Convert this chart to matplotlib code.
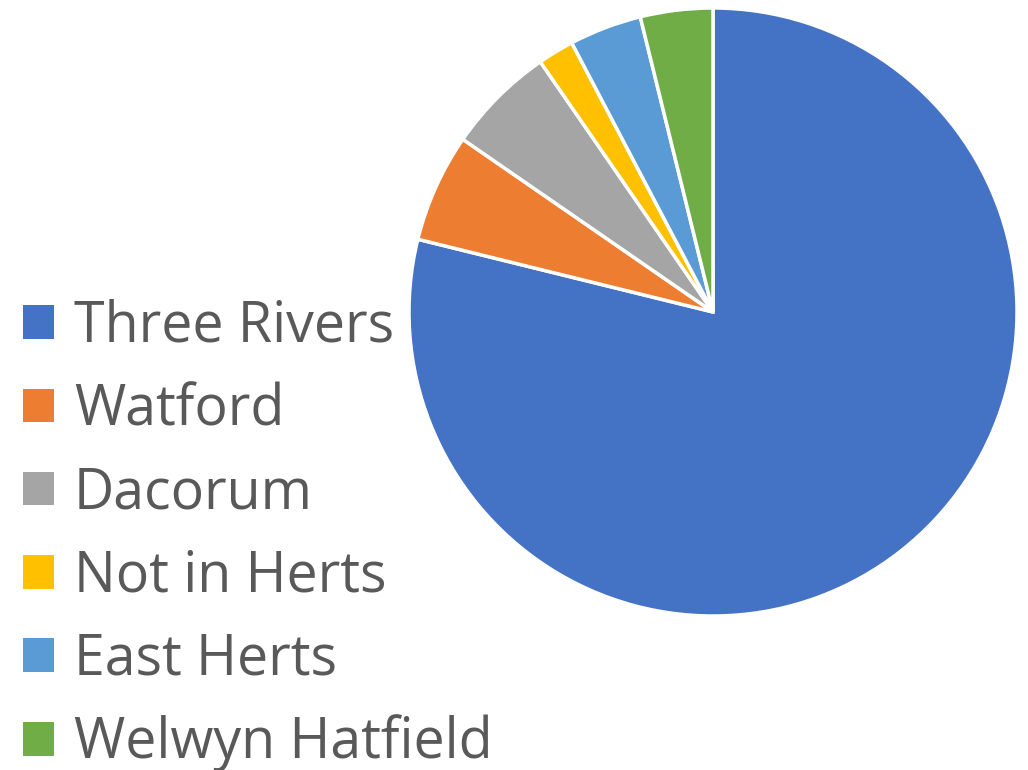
import matplotlib
matplotlib.use("Agg")
import matplotlib.pyplot as plt

categories = ["Three Rivers", "Watford", "Dacorum", "Not in Herts", "East Herts", "Welwyn Hatfield"]
values = [41, 3, 3, 1, 2, 2]
colors = ["#4472C4", "#ED7D31", "#A5A5A5", "#FFC000", "#5B9BD5", "#70AD47"]

fig = plt.figure(figsize=(10.28, 7.7), dpi=100)
W, H = 1028, 770
cx, cy, r = 713, 312, 304
ax = fig.add_axes([(cx - r) / W, (H - cy - r) / H, 2 * r / W, 2 * r / H])
wedges, _ = ax.pie(values, colors=colors, startangle=90, counterclock=False,
                   wedgeprops=dict(edgecolor="white", linewidth=2.5))
ax.set_xlim(-1, 1)
ax.set_ylim(-1, 1)
ax.set_aspect("equal")
ax.axis("off")

leg = fig.legend(wedges, categories, loc="upper left", bbox_to_anchor=(23 / W, (H - 299) / H),
                 frameon=False, prop=dict(family="Open Sans", size=40),
                 labelcolor="#595959", handlelength=0.56, handleheight=0.56,
                 handletextpad=0.36, labelspacing=0.47, borderaxespad=0, borderpad=0)
for h in leg.legend_handles:
    h.set_edgecolor("none")

fig.savefig("out.png", dpi=100)
